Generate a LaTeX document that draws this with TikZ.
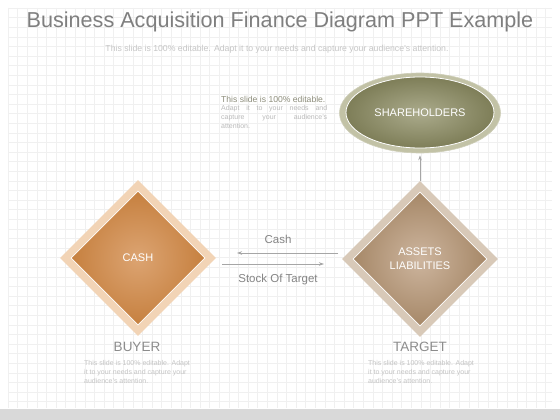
\documentclass[tikz,border=0pt]{standalone}
\usepackage{fontspec}
\setmainfont{Liberation Sans}
\usetikzlibrary{shapes.geometric,arrows.meta,calc}
\definecolor{gridc}{HTML}{F0F0F0}
\definecolor{bandc}{HTML}{D9D9D9}
\definecolor{titlec}{HTML}{7F7F7F}
\definecolor{subc}{HTML}{C6C6C6}
\definecolor{darknote}{HTML}{8E8E7C}
\definecolor{lightnote}{HTML}{C4C4C4}
\definecolor{arrowc}{HTML}{A6A6A6}
\definecolor{labelc}{HTML}{858585}
\definecolor{cashout}{HTML}{F2D4B6}
\definecolor{cashin}{HTML}{C6803F}
\definecolor{cashmid}{HTML}{DCA472}
\definecolor{tgtout}{HTML}{D8C9B8}
\definecolor{tgtin}{HTML}{A68868}
\definecolor{tgtmid}{HTML}{CDB59E}
\definecolor{shout}{HTML}{C2C2A6}
\definecolor{shin}{HTML}{7E7E58}
\definecolor{shmid}{HTML}{ABAB8C}
\begin{document}
\begin{tikzpicture}[x=1pt,y=-1pt,
  gridline/.style={draw=gridc,line width=0.45pt},
  connector/.style={draw=arrowc,line width=0.7pt,-{Stealth[length=5pt,width=3.5pt]}},
  outerdia/.style={diamond,aspect=1,inner sep=0pt,minimum width=156pt,minimum height=156pt},
  innerdia/.style={diamond,aspect=1,inner sep=0pt,minimum width=134pt,minimum height=134pt,draw=white!75,line width=0.8pt,text=white,align=center,font=\fontsize{11}{14}\selectfont},
  arrowlabel/.style={text=labelc,font=\fontsize{11.5}{14}\selectfont},
  rolelabel/.style={text=titlec!90,font=\fontsize{13.5}{16}\selectfont},
  note/.style={text=lightnote,font=\fontsize{7}{9}\selectfont,align=left,inner sep=0pt}
]
\useasboundingbox (0,0) rectangle (560,420);
\fill[white] (0,0) rectangle (560,420);
\foreach \i in {0,...,56} \draw[gridline] ({8+\i*9.6},8) -- ({8+\i*9.6},408);
\foreach \j in {0,...,41} \draw[gridline] (8,{8+\j*9.6}) -- (552,{8+\j*9.6});
\fill[bandc] (0,409) rectangle (560,420);

% title
\node[text=titlec,font=\fontsize{21.6}{24}\selectfont] (title) at (280,22) {Business Acquisition Finance Diagram PPT Example};
\node[text=subc,font=\fontsize{8.7}{10}\selectfont] (subtitle) at (277,49) {This slide is 100\% editable. Adapt it to your needs and capture your audience's attention.};

% top-left note
\node[anchor=west,inner sep=0pt,text=darknote,font=\fontsize{8.6}{10}\selectfont] (n1) at (221,99) {This slide is 100\% editable.};
\node[anchor=north west,note,text=lightnote!95!black] (n2) at (221,105) {\makebox[106pt][s]{Adapt it to your needs and}\\\makebox[106pt][s]{capture your audience's}\\attention.};

% shareholders
\node[ellipse,fill=shout,draw=shout!80!white,line width=0.6pt,minimum width=161pt,minimum height=80pt,inner sep=0pt] (shO) at (420,113) {};
\node[ellipse,inner color=shmid,outer color=shin,draw=white!80,line width=0.8pt,minimum width=148pt,minimum height=71pt,inner sep=0pt,text=white,font=\fontsize{11}{14}\selectfont] (share) at (420,112.5) {SHAREHOLDERS};

% buyer diamond
\node[outerdia,fill=cashout] (cashO) at (138,258) {};
\node[innerdia,inner color=cashmid,outer color=cashin] (cash) at (138,258) {CASH};

% target diamond
\node[outerdia,fill=tgtout] (tgtO) at (420,259) {};
\node[innerdia,inner color=tgtmid,outer color=tgtin] (target) at (420,259) {ASSETS\\LIABILITIES};

% connectors
\coordinate (c1s) at (338,253);
\coordinate (c1e) at (237,253);
\coordinate (c2s) at (222,264);
\coordinate (c2e) at (324,264);
\draw[connector] (c1s) -- (c1e);
\draw[connector] (c2s) -- (c2e);
\draw[connector] (tgtO.north) -- ($(shO.south)+(0,2)$);
\node[arrowlabel] (lcash) at (278,239) {Cash};
\node[arrowlabel] (lstock) at (278,280) {Stock Of Target};

% role labels
\node[rolelabel] (buyer) at (137,347) {BUYER};
\node[rolelabel] (tgtlabel) at (420,347) {TARGET};
\node[note,anchor=north west] (bnote) at (84,360) {This slide is 100\% editable. Adapt\\it to your needs and capture your\\audience's attention.};
\node[note,anchor=north west] (tnote) at (368,360) {This slide is 100\% editable. Adapt\\it to your needs and capture your\\audience's attention.};
\end{tikzpicture}
\end{document}
